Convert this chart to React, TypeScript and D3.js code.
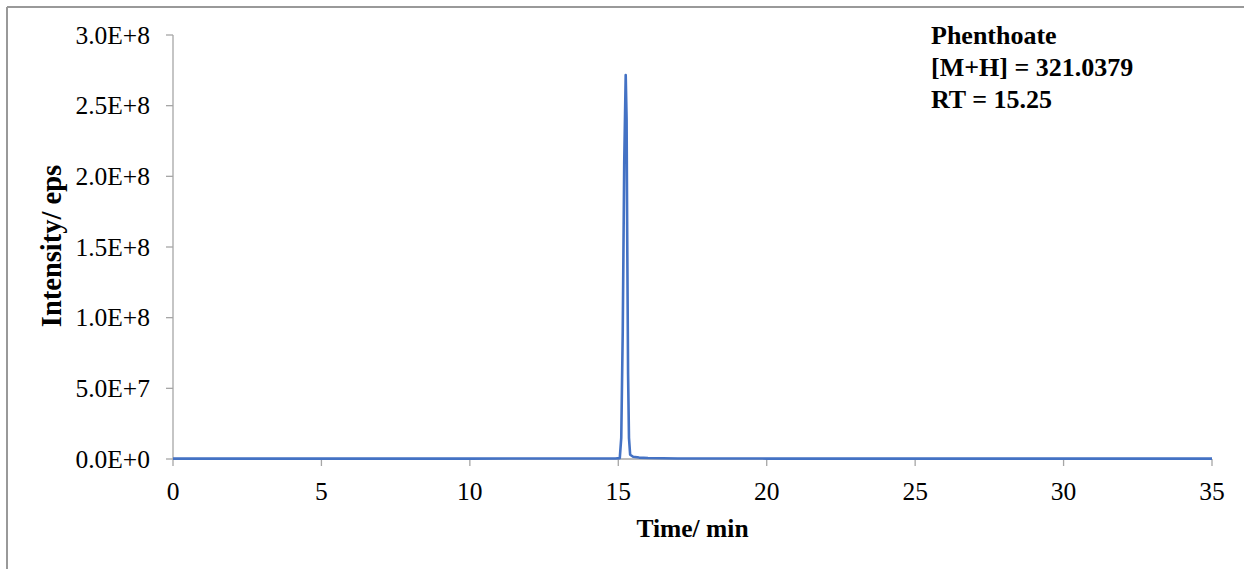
import React from "react";
import * as d3 from "d3";

const times = [0, 5, 10, 14.9, 15.05, 15.1, 15.15, 15.2, 15.25, 15.28, 15.3, 15.33, 15.36, 15.4, 15.5, 15.7, 16.0, 17, 20, 25, 30, 35];
const intensity = [3e5, 3e5, 3e5, 4e5, 6e5, 1.5e7, 9e7, 2.1e8, 2.716e8, 2.4e8, 1.6e8, 6e7, 1.5e7, 3e6, 1.6e6, 1e6, 7e5, 4e5, 3e5, 3e5, 3e5, 3e5];
const yTicks = [0, 5e7, 1e8, 1.5e8, 2e8, 2.5e8, 3e8];
const yTickLabels = ["0.0E+0", "5.0E+7", "1.0E+8", "1.5E+8", "2.0E+8", "2.5E+8", "3.0E+8"];
const xTicks = [0, 5, 10, 15, 20, 25, 30, 35];
const annotation = ["Phenthoate", "[M+H] = 321.0379", "RT = 15.25"];

const W = 1244, H = 569;
const L = 173, R = 1212, T = 35, B = 459;

export default function App() {
  const x = d3.scaleLinear().domain([0, 35]).range([L, R]);
  const y = d3.scaleLinear().domain([0, 3e8]).range([B, T]);
  const data = times.map((t, i) => [t, intensity[i]] as [number, number]);
  const line = d3.line<[number, number]>().x(d => x(d[0])).y(d => y(d[1]));
  const ff = { fontFamily: "'Liberation Serif', 'DejaVu Serif', 'Times New Roman', serif" };
  const axisColor = "#a6a6a6";
  return (
    <svg width={W} height={H} style={{ position: "absolute", left: 0, top: 0, background: "#fff" }}>
      <rect x={0} y={0} width={W} height={H} fill="#fff" />
      <line x1={7} y1={7} x2={W} y2={7} stroke="#999" strokeWidth={2} />
      <line x1={7} y1={7} x2={7} y2={H} stroke="#999" strokeWidth={2} />
      <line x1={L} y1={T} x2={L} y2={B} stroke={axisColor} strokeWidth={1.3} />
      <line x1={L} y1={B} x2={R} y2={B} stroke={axisColor} strokeWidth={1.3} />
      {yTicks.map((v, i) => (
        <g key={v}>
          <line x1={L - 7} x2={L} y1={y(v)} y2={y(v)} stroke={axisColor} strokeWidth={1.3} />
          <text x={150} y={y(v)} dy="0.34em" textAnchor="end" fontSize={25.5} fill="#000" style={ff}>{yTickLabels[i]}</text>
        </g>
      ))}
      {xTicks.map(v => (
        <g key={v}>
          <line x1={x(v)} x2={x(v)} y1={B} y2={B + 7} stroke={axisColor} strokeWidth={1.3} />
          <text x={x(v)} y={500} textAnchor="middle" fontSize={25.5} fill="#000" style={ff}>{v}</text>
        </g>
      ))}
      <path d={line(data) || ""} fill="none" stroke="#4472C4" strokeWidth={2.6} strokeLinejoin="round" />
      <text x={(L + R) / 2} y={537} textAnchor="middle" fontSize={25.5} fontWeight="bold" fill="#000" style={ff}>Time/ min</text>
      <text transform={`translate(61, 246) rotate(-90)`} textAnchor="middle" fontSize={28.5} fontWeight="bold" fill="#000" style={ff}>Intensity/ eps</text>
      {annotation.map((s, i) => (
        <text key={s} x={931} y={44 + i * 32} fontSize={26} fontWeight="bold" fill="#000" style={ff}>{s}</text>
      ))}
    </svg>
  );
}
